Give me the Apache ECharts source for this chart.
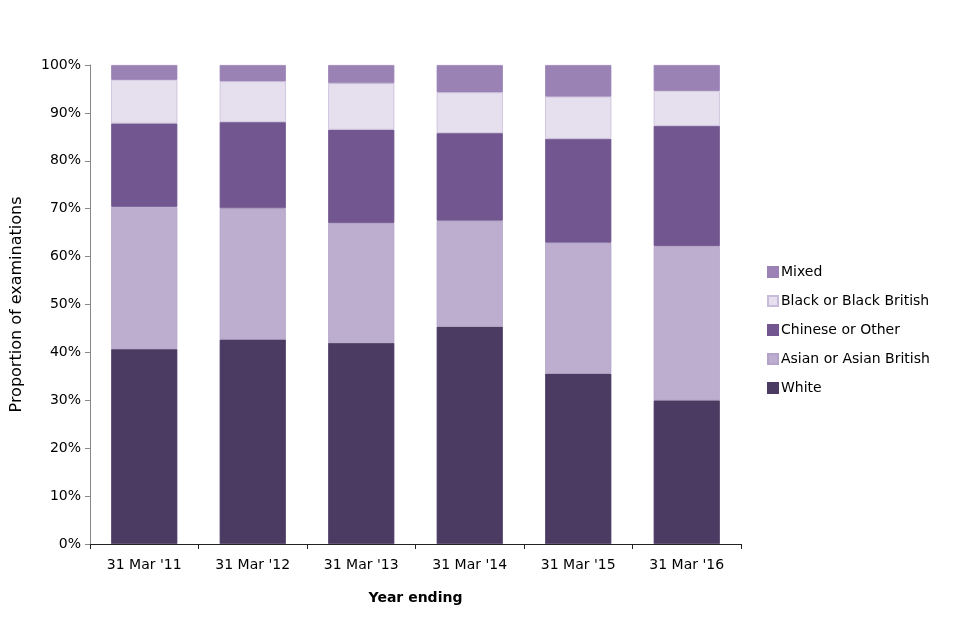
<!DOCTYPE html>
<html><head><meta charset="utf-8">
<script src="https://cdn.jsdelivr.net/npm/echarts@6/dist/echarts.min.js"></script>
<style>html,body{margin:0;padding:0;background:#fff}#c{width:960px;height:640px}</style>
</head><body><div id="c"></div>
<script>
const categories = ["31 Mar '11","31 Mar '12","31 Mar '13","31 Mar '14","31 Mar '15","31 Mar '16"];
const white = [40.7, 42.7, 42.0, 45.4, 35.6, 30.0];
const asian = [29.7, 27.4, 25.0, 22.1, 27.3, 32.2];
const chinese = [17.4, 18.0, 19.5, 18.3, 21.7, 25.1];
const black = [9.1, 8.5, 9.7, 8.5, 8.8, 7.3];
const mixed = [3.1, 3.4, 3.8, 5.7, 6.6, 5.4];
const yTicks = [0,10,20,30,40,50,60,70,80,90,100];

const seriesDefs = [
  {name:'White', data:white, color:'#4b3a62', border:'#4b3a62'},
  {name:'Asian or Asian British', data:asian, color:'#bdaecf', border:'#b3a3c8'},
  {name:'Chinese or Other', data:chinese, color:'#71568f', border:'#71568f'},
  {name:'Black or Black British', data:black, color:'#e6e0ee', border:'#c9bcdb'},
  {name:'Mixed', data:mixed, color:'#9b82b5', border:'#9b82b5'}
];
const font = 'DejaVu Sans';
const chart = echarts.init(document.getElementById('c'));
chart.setOption({
  animation:false,
  textStyle:{fontFamily:font},
  grid:{left:90, top:65, width:651, height:479, containLabel:false, outerBoundsMode:'none'},
  legend:{
    orient:'vertical', left:762, top:260, itemGap:15, itemWidth:10, itemHeight:10,
    icon:'rect',
    data:seriesDefs.map(s=>s.name).reverse(),
    textStyle:{fontFamily:font, fontSize:14, color:'#000', padding:[0,0,0,-2]}
  },
  xAxis:{
    type:'category', data:categories,
    name:'Year ending', nameLocation:'middle', nameGap:47,
    nameTextStyle:{fontFamily:font, fontSize:14, fontWeight:'bold', color:'#000'},
    axisLine:{lineStyle:{color:'#222', width:1}},
    axisTick:{show:true, length:5, lineStyle:{color:'#222'}},
    axisLabel:{fontFamily:font, fontSize:14, color:'#000', margin:14}
  },
  yAxis:{
    type:'value', min:0, max:100, interval:10,
    name:'Proportion of examinations', nameLocation:'middle', nameGap:65, nameRotate:90,
    nameTextStyle:{fontFamily:font, fontSize:16, color:'#000'},
    axisLine:{show:true, lineStyle:{color:'#888'}},
    axisTick:{show:true, length:5, lineStyle:{color:'#888'}},
    splitLine:{show:false},
    axisLabel:{fontFamily:font, fontSize:14, color:'#000', margin:9, formatter:v=>v+'%'}
  },
  series: seriesDefs.map(s=>({
    name:s.name, type:'bar', stack:'total', data:s.data, barWidth:'61%',
    itemStyle:{color:s.color, borderColor:s.border, borderWidth:0.8}
  }))
});
</script></body></html>
